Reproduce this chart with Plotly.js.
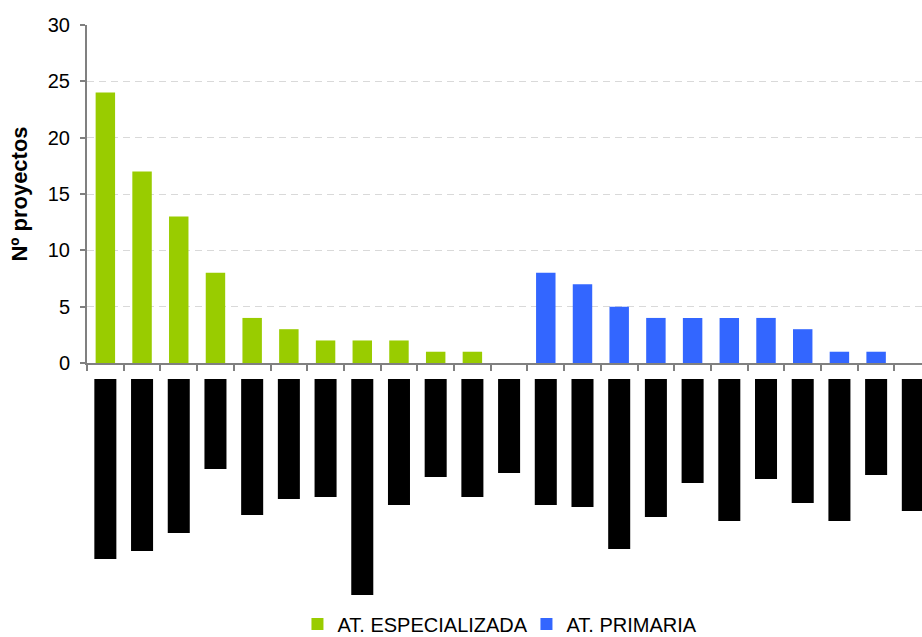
<!DOCTYPE html>
<html>
<head>
<meta charset="utf-8">
<script src="https://cdn.plot.ly/plotly-3.0.1.min.js"></script>
<style>html,body{margin:0;padding:0;background:#fff;overflow:hidden}#chart{width:922px;height:637px}</style>
</head>
<body>
<div id="chart"></div>
<script>
// Category positions (23 columns)
const categories = [0,1,2,3,4,5,6,7,8,9,10,11,12,13,14,15,16,17,18,19,20,21,22];
// Nº proyectos – AT. ESPECIALIZADA
const especializada = [24,17,13,8,4,3,2,2,2,1,1,null,null,null,null,null,null,null,null,null,null,null,null];
// Nº proyectos – AT. PRIMARIA
const primaria = [null,null,null,null,null,null,null,null,null,null,null,null,8,7,5,4,4,4,4,3,1,1,null];
// Category label blocks (drawn as black bars under the axis)
const labelBlocks = [90,86,77,45,68,60,59,108,63,49,59,47,63,64,85,69,52,71,50,62,71,48,66];
const yTicks = [0,5,10,15,20,25,30];
const seriesNames = ['AT. ESPECIALIZADA','AT. PRIMARIA'];
const yTitle = 'Nº proyectos';

const boundaries = categories.map(c => c - 0.5);

const traces = [
  {type:'bar', x:categories, y:especializada, name:seriesNames[0], marker:{color:'#99cc00'}, width:0.53, xaxis:'x', yaxis:'y'},
  {type:'bar', x:categories, y:primaria, name:seriesNames[1], marker:{color:'#3366ff'}, width:0.53, xaxis:'x', yaxis:'y'},
  {type:'bar', x:categories, y:labelBlocks, showlegend:false, marker:{color:'#000000'}, width:0.6, xaxis:'x', yaxis:'y2', hoverinfo:'skip'}
];

const layout = {
  width:922, height:637,
  margin:{l:87, r:0, t:25, b:0, autoexpand:false},
  paper_bgcolor:'#ffffff', plot_bgcolor:'rgba(0,0,0,0)',
  font:{family:'Liberation Sans, Arial, sans-serif', size:20, color:'#000'},
  barmode:'overlay',
  showlegend:true,
  legend:{orientation:'h', xref:'paper', x:0.5263, xanchor:'center', yref:'paper', y:0.0212, yanchor:'middle', font:{size:20, color:'#000'}, itemwidth:30, tracegroupgap:0, entrywidth:184, entrywidthmode:'pixels', bgcolor:'rgba(0,0,0,0)'},
  xaxis:{
    range:[-0.5, 22.25], showticklabels:false, showgrid:false, zeroline:false,
    showline:true, linecolor:'#808080', linewidth:2,
    tickmode:'array', tickvals:boundaries, ticks:'outside', ticklen:6, tickwidth:2, tickcolor:'#808080',
    anchor:'y', fixedrange:true
  },
  yaxis:{
    domain:[0.44771, 1], range:[0,30], tickmode:'array', tickvals:yTicks,
    ticks:'outside', ticklen:5, tickwidth:2, tickcolor:'#808080',
    showline:true, linecolor:'#808080', linewidth:2,
    showgrid:true, gridcolor:'#d9d9d9', gridwidth:1, griddash:'7px,5px',
    zeroline:false, ticklabelstandoff:6,
    tickfont:{size:20, color:'#000'},
    title:{text:yTitle, font:{size:22, color:'#000', weight:'bold'}, standoff:14},
    anchor:'x'
  },
  yaxis2:{
    domain:[0, 0.42157], range:[129, 0], showgrid:false, zeroline:false,
    showline:false, showticklabels:false, ticks:'', anchor:'x'
  }
};

Plotly.newPlot('chart', traces, layout, {displayModeBar:false, staticPlot:true});
</script>
</body>
</html>
